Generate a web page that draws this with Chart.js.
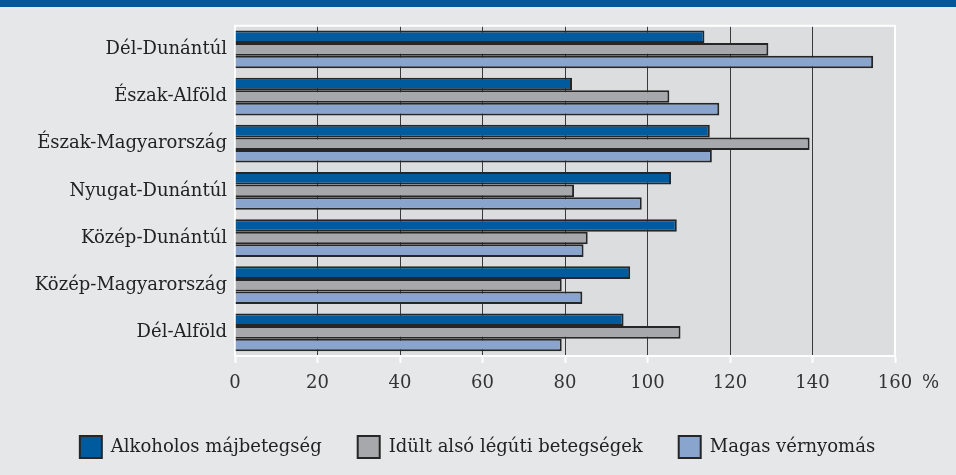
<!DOCTYPE html>
<html>
<head>
<meta charset="utf-8">
<script src="https://cdn.jsdelivr.net/npm/chart.js@4"></script>
<style>
  body { margin: 0; background: #e6e7e8; }
  #band { height: 7px; background: #00579b; }
  #wrap { width: 956px; height: 468px; }
</style>
</head>
<body>
<div id="band"></div>
<div id="wrap"><canvas id="chart" width="956" height="468"></canvas></div>
<script>
// regions, top to bottom
const regions = ['Dél-Dunántúl', 'Észak-Alföld', 'Észak-Magyarország', 'Nyugat-Dunántúl',
  'Közép-Dunántúl', 'Közép-Magyarország', 'Dél-Alföld'];

// values in %
const alkoholos = [113.8, 81.7, 115.1, 105.7, 107.1, 95.8, 94.2];
const legzoszervi = [129.3, 105.3, 139.3, 82.2, 85.5, 79.2, 108.0];
const vernyomas = [154.7, 117.4, 115.6, 98.6, 84.5, 84.2, 79.2];

const seriesNames = ['Alkoholos májbetegség', 'Idült alsó légúti betegségek', 'Magas vérnyomás'];
const xTicks = [0, 20, 40, 60, 80, 100, 120, 140, 160];
const unitLabel = '%';

const FONT = 'DejaVu Serif';

// plot background, white frame, unit label; legend nudged to the right
const decor = {
  id: 'decor',
  afterLayout(chart) {
    chart.legend.left += 30;
    chart.legend.right += 30;
  },
  beforeDraw(chart) {
    const { ctx, chartArea: a } = chart;
    ctx.save();
    ctx.fillStyle = '#dcdddf';
    ctx.fillRect(a.left, a.top, a.right - a.left, a.bottom - a.top);
    ctx.restore();
  },
  beforeDatasetsDraw(chart) {
    const { ctx, chartArea: a } = chart;
    ctx.save();
    ctx.strokeStyle = '#ffffff';
    ctx.lineWidth = 2;
    ctx.strokeRect(a.left, a.top, a.right - a.left, a.bottom - a.top);
    ctx.restore();
  },
  afterDraw(chart) {
    const { ctx, chartArea: a } = chart;
    ctx.save();
    ctx.font = '18px "' + FONT + '"';
    ctx.fillStyle = '#333';
    ctx.textBaseline = 'middle';
    ctx.fillText(unitLabel, a.right + 27, a.bottom + 27);
    ctx.restore();
  }
};

new Chart(document.getElementById('chart'), {
  type: 'bar',
  data: {
    labels: regions,
    datasets: [
      { label: seriesNames[0], data: alkoholos, backgroundColor: '#005b9e' },
      { label: seriesNames[1], data: legzoszervi, backgroundColor: '#a7a8ab' },
      { label: seriesNames[2], data: vernyomas, backgroundColor: '#8aa5cd' }
    ].map(d => Object.assign(d, { borderColor: '#262626', borderWidth: 2 }))
  },
  options: {
    indexAxis: 'y',
    responsive: false,
    animation: false,
    devicePixelRatio: 1,
    layout: { padding: { top: 16, right: 61, bottom: 7, left: 0 } },
    datasets: { bar: { barPercentage: 1, categoryPercentage: 0.8 } },
    scales: {
      x: {
        min: 0,
        max: 160,
        afterBuildTicks(scale) { scale.ticks = xTicks.map(v => ({ value: v })); },
        afterFit(scale) { scale.height = 44; },
        grid: { color: '#3a3a3a', lineWidth: 1, tickColor: '#ffffff', tickLength: 7, tickWidth: 2 },
        border: { color: '#ffffff', width: 2 },
        ticks: { color: '#333', padding: 10, font: { family: FONT, size: 18 } }
      },
      y: {
        afterFit(scale) { scale.width = 235; },
        grid: { display: false, drawTicks: false },
        border: { display: false },
        ticks: { color: '#222', padding: 8, font: { family: FONT, size: 18 } }
      }
    },
    plugins: {
      tooltip: { enabled: false },
      legend: {
        position: 'bottom',
        labels: {
          boxWidth: 22,
          boxHeight: 22,
          padding: 36,
          color: '#222',
          font: { family: FONT, size: 18 }
        }
      }
    }
  },
  plugins: [decor]
});
</script>
</body>
</html>
